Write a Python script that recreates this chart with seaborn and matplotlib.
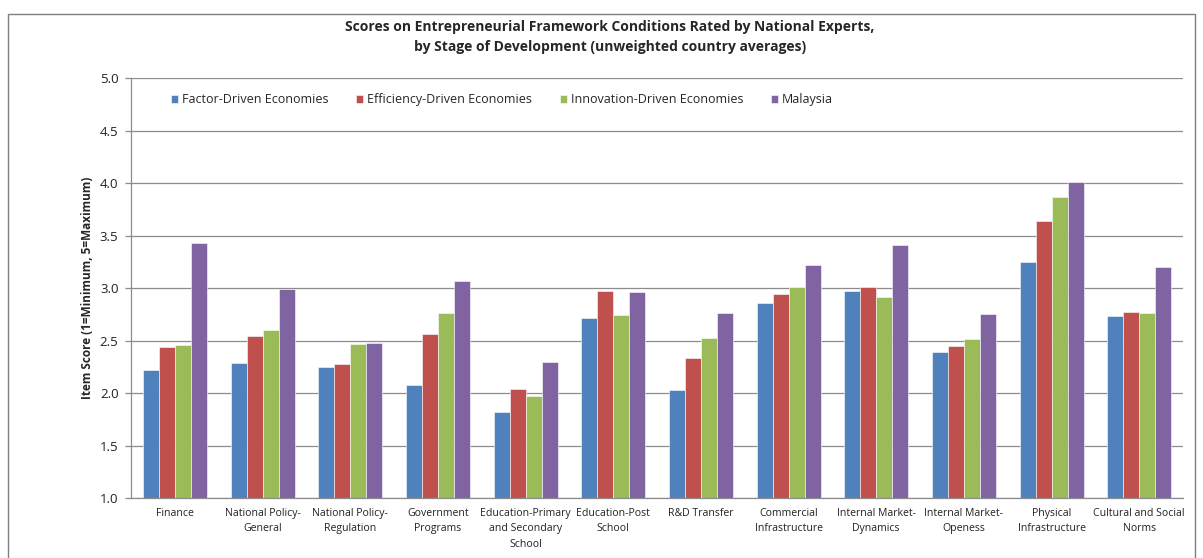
import numpy as np
import pandas as pd
import matplotlib
matplotlib.use("Agg")
import matplotlib.pyplot as plt
from matplotlib.patches import Rectangle
import seaborn as sns

categories = [
    "Finance",
    "National Policy-\nGeneral",
    "National Policy-\nRegulation",
    "Government\nPrograms",
    "Education-Primary\nand Secondary\nSchool",
    "Education-Post\nSchool",
    "R&D Transfer",
    "Commercial\nInfrastructure",
    "Internal Market-\nDynamics",
    "Internal Market-\nOpeness",
    "Physical\nInfrastructure",
    "Cultural and Social\nNorms",
]

factor_driven = [2.22, 2.29, 2.25, 2.08, 1.82, 2.71, 2.03, 2.86, 2.97, 2.39, 3.25, 2.73]
efficiency_driven = [2.44, 2.54, 2.28, 2.56, 2.04, 2.97, 2.33, 2.94, 3.01, 2.45, 3.64, 2.77]
innovation_driven = [2.46, 2.60, 2.47, 2.76, 1.97, 2.74, 2.52, 3.01, 2.91, 2.51, 3.87, 2.76]
malaysia = [3.43, 2.99, 2.48, 3.07, 2.30, 2.96, 2.76, 3.22, 3.41, 2.75, 4.01, 3.20]

series_names = [
    "Factor-Driven Economies",
    "Efficiency-Driven Economies",
    "Innovation-Driven Economies",
    "Malaysia",
]
series_values = [factor_driven, efficiency_driven, innovation_driven, malaysia]
colors = ["#4F81BD", "#C0504D", "#9BBB59", "#8064A2"]

df = pd.DataFrame(
    [(c, s, v) for s, vals in zip(series_names, series_values) for c, v in zip(categories, vals)],
    columns=["Condition", "Group", "Score"],
)

sns.set_theme(style="white")
plt.rcParams["font.family"] = ["Open Sans", "DejaVu Sans"]

fig = plt.figure(figsize=(12.03, 5.58), dpi=100)
ax = fig.add_axes([0.1089, 0.1075, 0.8745, 0.7527])

sns.barplot(
    data=df, x="Condition", y="Score", hue="Group",
    order=categories, hue_order=series_names, palette=colors,
    width=0.73, gap=0, saturation=1, ax=ax,
    edgecolor="white", linewidth=0.4,
)

ax.set_ylim(1.0, 5.0)
ax.set_xlim(-0.5, len(categories) - 0.5)
ax.set_yticks(np.arange(1.0, 5.01, 0.5))
ax.set_yticklabels([f"{v:.1f}" for v in np.arange(1.0, 5.01, 0.5)], fontsize=9.5, color="#222222")
ax.yaxis.grid(True, color="#8c8c8c", linewidth=0.9)
ax.set_axisbelow(True)

# category boundary ticks on the x axis, labels centred under each group
ax.set_xticks(np.arange(len(categories)))
ax.set_xticklabels(categories, fontsize=7.6, color="#222222", linespacing=1.55)
ax.tick_params(axis="x", length=0, pad=7)
ax.set_xticks(np.arange(-0.5, len(categories), 1.0), minor=True)
ax.tick_params(axis="x", which="minor", direction="out", length=4, color="#8c8c8c", width=0.9)
ax.tick_params(axis="y", direction="out", length=4, color="#8c8c8c", width=0.9, left=True, pad=5)

for side in ["top", "right"]:
    ax.spines[side].set_visible(False)
for side in ["left", "bottom"]:
    ax.spines[side].set_color("#8c8c8c")
    ax.spines[side].set_linewidth(0.9)

ax.set_xlabel("")
ax.set_ylabel("Item Score (1=Minimum, 5=Maximum)", fontsize=8.5, fontweight="bold", labelpad=4)

leg = ax.legend(
    loc="upper left", bbox_to_anchor=(0.027, 0.99), ncol=4, frameon=False,
    fontsize=9, handlelength=0.6, handleheight=0.6, handletextpad=0.3, columnspacing=2.2,
)

fig.text(0.507, 0.952, "Scores on Entrepreneurial Framework Conditions Rated by National Experts,",
         ha="center", va="center", fontsize=10, fontweight="bold")
fig.text(0.507, 0.916, "by Stage of Development (unweighted country averages)",
         ha="center", va="center", fontsize=10, fontweight="bold")

# chart border
fig.patches.append(Rectangle((8 / 1203, -0.05), (1195 - 8) / 1203, 1.05 - 14 / 558,
                             transform=fig.transFigure, fill=False,
                             edgecolor="#7f7f7f", linewidth=1.0))

fig.savefig("out.png", dpi=100)
